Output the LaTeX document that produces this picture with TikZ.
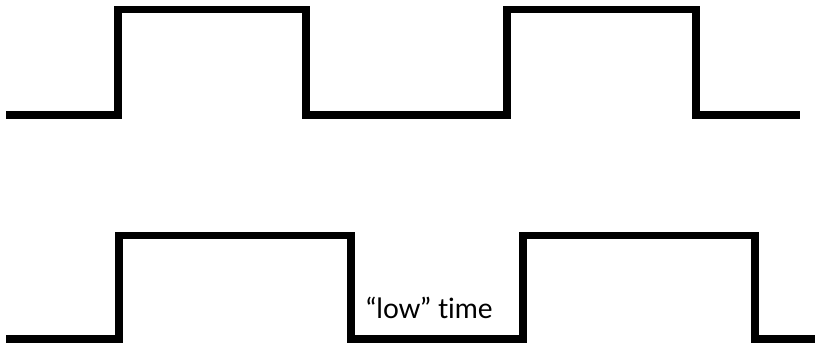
\documentclass[tikz,border=0pt]{standalone}
\usepackage{fontspec}
\setmainfont{Lato}[Ligatures=NoCommon]
\usetikzlibrary{positioning}
\tikzset{
  wave/.style={line width=7.5pt, line join=miter, line cap=butt},
  lbl/.style={font=\fontsize{28}{32}\selectfont, inner sep=0pt}
}

\begin{document}
\begin{tikzpicture}[x=1pt,y=-1pt]
        \useasboundingbox (0,0) rectangle (815,343);
        % top: short high time
        \draw[wave](6,115)--(118,115)--(118,9.5)--(306,9.5)--(306,115)--(408,115);
        \draw[wave](402,115)--(507,115)--(507,9.5)--(696,9.5)--(696,115)--(800,115);
        % bottom: long high time
        \draw[wave](6,339)--(119,339)--(119,235.5)--(351,235.5)--(351,339)--(412,339);
        \draw[wave](408,339)--(523,339)--(523,235.5)--(755,235.5)--(755,339)--(815,339);
        \node[lbl,anchor=base west] (lowtime) at (366,318){``low'' time};
      \end{tikzpicture}
\end{document}
